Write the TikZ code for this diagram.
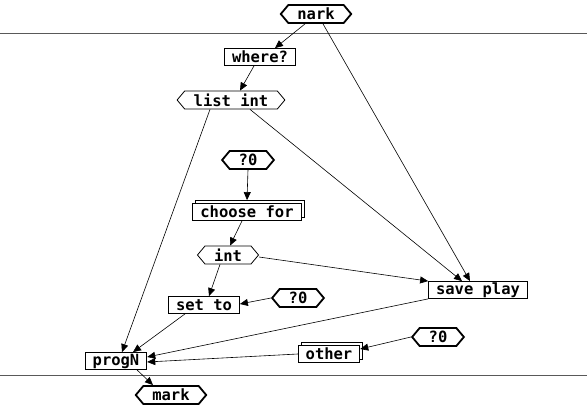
\documentclass[tikz,border=0pt]{standalone}
\usepackage{fontspec}
\setmonofont{DejaVu Sans Mono}
\usetikzlibrary{shapes.symbols, arrows.meta, shadows, positioning}
\tikzset{
  opbox/.style     = {rectangle, draw, fill=white, thick, minimum height=17pt, inner xsep=7.5pt, inner ysep=1pt, font=\ttfamily\bfseries\fontsize{15.5}{17}\selectfont},
  opstack/.style   = {opbox, copy shadow={shadow xshift=3pt, shadow yshift=3pt}},
  constnode/.style = {signal, signal to=west and east, signal pointer angle=100, draw, fill=white, line width=1.8pt, minimum height=18pt, inner xsep=9pt, inner ysep=1pt, font=\ttfamily\bfseries\fontsize{15.5}{17}\selectfont},
  varnode/.style   = {constnode, thick},
  flow/.style      = {-{Triangle[length=8pt, width=7pt]}, semithick},
  lane/.style      = {black!65, line width=1pt},
}
\begin{document}
\begin{tikzpicture}[x=1pt, y=-1pt]
\useasboundingbox (0,0) rectangle (587,406);

% ================= lanes =================
\draw [lane] (0,34) -- (587,34);
\draw [lane] (0,376) -- (587,376);

% ================= top =================
\node (nark)   [constnode] at (316, 14)  {nark};
\node (where)  [opbox]     at (260, 57)  {where?};
\node (list)   [varnode]   at (231, 100) {list int};

% ================= middle =================
\node (qtop)   [constnode] at (248, 160) {?0};
\node (choose) [opstack]   at (247, 212) {choose for};
\node (int)    [varnode]   at (228, 255) {int};
\node (setto)  [opbox]     at (204, 305) {set to};
\node (qmid)   [constnode] at (298, 298) {?0};
\node (save)   [opbox]     at (478, 290) {save play};

% ================= bottom =================
\node (qright) [constnode] at (438, 337) {?0};
\node (other)  [opstack]   at (329, 354) {other};
\node (progn)  [opbox]     at (116, 361) {progN};
\node (mark)   [constnode] at (171, 395) {mark};

% ================= flow =================
\draw [flow] ([xshift=-11pt]nark.south) -- ([xshift=15pt]where.north);
\draw [flow] ([xshift=7pt]nark.south) -- ([xshift=-8pt]save.north);
\draw [flow] ([xshift=-6pt]where.south) -- ([xshift=9pt]list.north);
\draw [flow] ([xshift=-21pt]list.south) -- ([xshift=6pt]progn.north);
\draw [flow] ([xshift=19pt]list.south) -- ([xshift=-16pt]save.north);
\draw [flow] (qtop.south) -- ([yshift=3pt]choose.north);
\draw [flow] ([xshift=-5pt]choose.south) -- ([xshift=2pt]int.north);
\draw [flow] ([xshift=-8pt]int.south) -- ([xshift=5pt]setto.north);
\draw [flow] ([yshift=-2pt]int.east) -- (save.north west);
\draw [flow] (qmid.west) -- ([yshift=1pt]setto.east);
\draw [flow] ([xshift=-19pt]setto.south) -- ([xshift=17pt]progn.north);
\draw [flow] (save.south west) -- ([yshift=4pt]progn.east);
\draw [flow] (other.west) -- ([yshift=-1pt]progn.east);
\draw [flow] (qright.west) -- ([yshift=5pt]other.east);
\draw [flow] ([xshift=21pt]progn.south) -- ([xshift=-18pt]mark.north);

\end{tikzpicture}
\end{document}
